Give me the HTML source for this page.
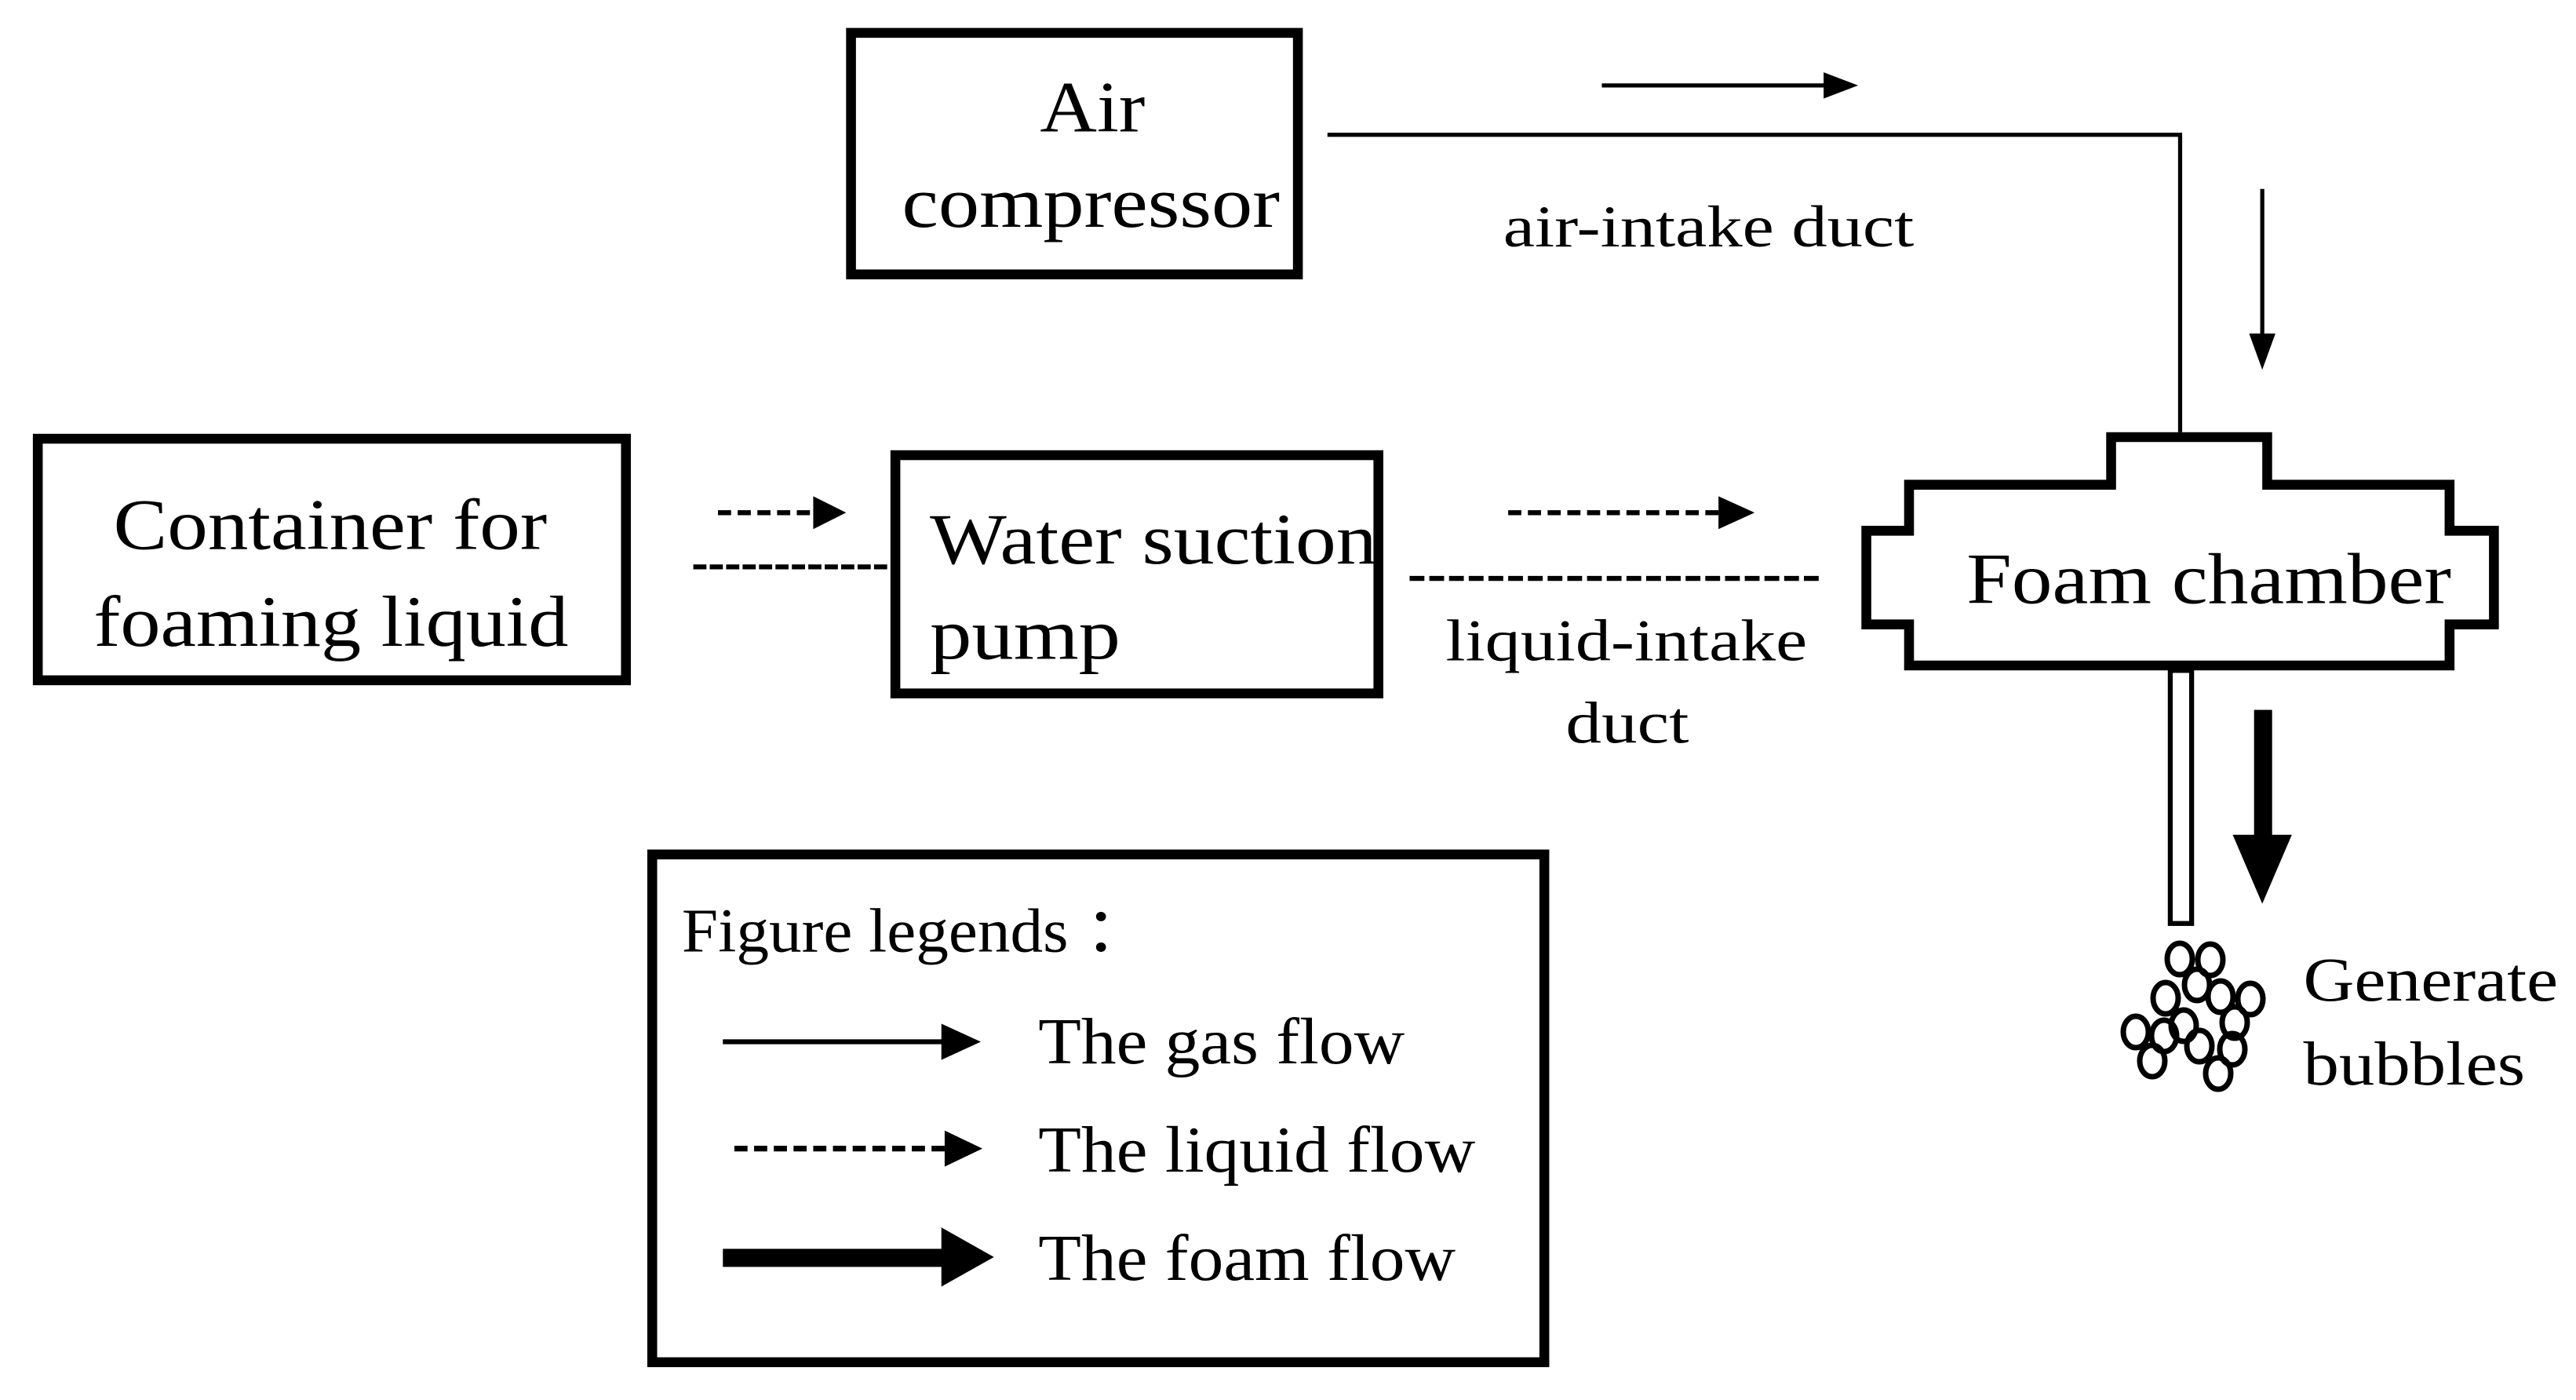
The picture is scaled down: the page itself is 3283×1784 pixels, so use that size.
<!DOCTYPE html>
<html><head><meta charset="utf-8"><style>html,body{margin:0;padding:0;background:#fff}svg{display:block}text{font-family:"Liberation Serif","Times New Roman",serif}</style></head>
<body>
<svg width="3283" height="1784" viewBox="0 0 3283 1784" xmlns="http://www.w3.org/2000/svg">
<rect width="3283" height="1784" fill="#fff"/>
<g transform="scale(2.0938,2.0939)" fill="#000">
  <rect x="518" y="20" width="272" height="147" fill="none" stroke="#000" stroke-width="6"/>
  <rect x="23" y="267" width="358" height="147" fill="none" stroke="#000" stroke-width="6"/>
  <rect x="545" y="277" width="294" height="145" fill="none" stroke="#000" stroke-width="6"/>
  <rect x="397" y="520" width="543" height="309" fill="none" stroke="#000" stroke-width="6"/>
  <path d="M1285,266 H1380 V295 H1491 V323 H1518 V380 H1491 V405 H1162 V380 H1136 V323 H1162 V295 H1285 Z" fill="none" stroke="#000" stroke-width="6"/>
  <polyline points="808,82 1327,82 1327,263" fill="none" stroke="#000" stroke-width="2.5"/>
  <line x1="975" y1="52" x2="1112" y2="52" stroke="#000" stroke-width="2.5"/>
  <polygon points="1110,44 1131,52 1110,60"/>
  <line x1="1377" y1="115" x2="1377" y2="205" stroke="#000" stroke-width="2.5"/>
  <polygon points="1369,203 1385,203 1377,225"/>
  <line x1="437" y1="312" x2="497" y2="312" stroke="#000" stroke-width="3" stroke-dasharray="8,4"/>
  <polygon points="495,302 515,312 495,322"/>
  <line x1="422" y1="345" x2="540" y2="345" stroke="#000" stroke-width="3" stroke-dasharray="8,2"/>
  <line x1="918" y1="312" x2="1048" y2="312" stroke="#000" stroke-width="3" stroke-dasharray="8,4"/>
  <polygon points="1046,302 1068,312 1046,322"/>
  <line x1="858" y1="352" x2="1108" y2="352" stroke="#000" stroke-width="3" stroke-dasharray="9,3"/>
  <rect x="1321" y="408" width="13" height="154" fill="none" stroke="#000" stroke-width="3"/>
  <rect x="1372" y="432" width="11" height="78"/>
  <polygon points="1359,508 1395,508 1377,550"/>
  <line x1="440" y1="634" x2="575" y2="634" stroke="#000" stroke-width="3"/>
  <polygon points="573,623 597,634 573,645"/>
  <line x1="447" y1="699" x2="575" y2="699" stroke="#000" stroke-width="3.5" stroke-dasharray="8,4"/>
  <polygon points="575,688 598,699 575,710"/>
  <rect x="440" y="760" width="135" height="11"/>
  <polygon points="573,747 605,765 573,783"/>
  <text x="633" y="80" font-size="44" textLength="64" lengthAdjust="spacingAndGlyphs">Air</text>
  <text x="549" y="138" font-size="44" textLength="230" lengthAdjust="spacingAndGlyphs">compressor</text>
  <text x="915" y="150" font-size="36" textLength="250" lengthAdjust="spacingAndGlyphs">air-intake duct</text>
  <text x="69" y="334" font-size="44" textLength="264" lengthAdjust="spacingAndGlyphs">Container for</text>
  <text x="57" y="393" font-size="44" textLength="289" lengthAdjust="spacingAndGlyphs">foaming liquid</text>
  <text x="566" y="343" font-size="44" textLength="272" lengthAdjust="spacingAndGlyphs">Water suction</text>
  <text x="566" y="401" font-size="44" textLength="116" lengthAdjust="spacingAndGlyphs">pump</text>
  <text x="880" y="402" font-size="36" textLength="220" lengthAdjust="spacingAndGlyphs">liquid-intake</text>
  <text x="953" y="452" font-size="36" textLength="75" lengthAdjust="spacingAndGlyphs">duct</text>
  <text x="1197" y="367" font-size="44" textLength="295" lengthAdjust="spacingAndGlyphs">Foam chamber</text>
  <text x="1402" y="609" font-size="38" textLength="155" lengthAdjust="spacingAndGlyphs">Generate</text>
  <text x="1402" y="660" font-size="38" textLength="135" lengthAdjust="spacingAndGlyphs">bubbles</text>
  <text x="415" y="579" font-size="38" textLength="285" lengthAdjust="spacingAndGlyphs">Figure legends ：</text>
  <text x="632" y="647" font-size="40" textLength="223" lengthAdjust="spacingAndGlyphs">The gas flow</text>
  <text x="632" y="713" font-size="40" textLength="266" lengthAdjust="spacingAndGlyphs">The liquid flow</text>
  <text x="632" y="779" font-size="40" textLength="254" lengthAdjust="spacingAndGlyphs">The foam flow</text>
</g>
<g fill="none" stroke="#000" stroke-width="7">
  <ellipse cx="2778" cy="1222" rx="16" ry="20"/>
  <ellipse cx="2817" cy="1223" rx="16" ry="20"/>
  <ellipse cx="2800" cy="1255" rx="16" ry="20"/>
  <ellipse cx="2760" cy="1272" rx="16" ry="20"/>
  <ellipse cx="2830" cy="1270" rx="16" ry="20"/>
  <ellipse cx="2868" cy="1273" rx="16" ry="20"/>
  <ellipse cx="2783" cy="1307" rx="16" ry="20"/>
  <ellipse cx="2848" cy="1303" rx="16" ry="20"/>
  <ellipse cx="2722" cy="1315" rx="16" ry="20"/>
  <ellipse cx="2758" cy="1320" rx="16" ry="20"/>
  <ellipse cx="2803" cy="1333" rx="16" ry="20"/>
  <ellipse cx="2845" cy="1337" rx="16" ry="20"/>
  <ellipse cx="2743" cy="1352" rx="16" ry="20"/>
  <ellipse cx="2827" cy="1368" rx="16" ry="20"/>
</g>
</svg>
</body></html>
